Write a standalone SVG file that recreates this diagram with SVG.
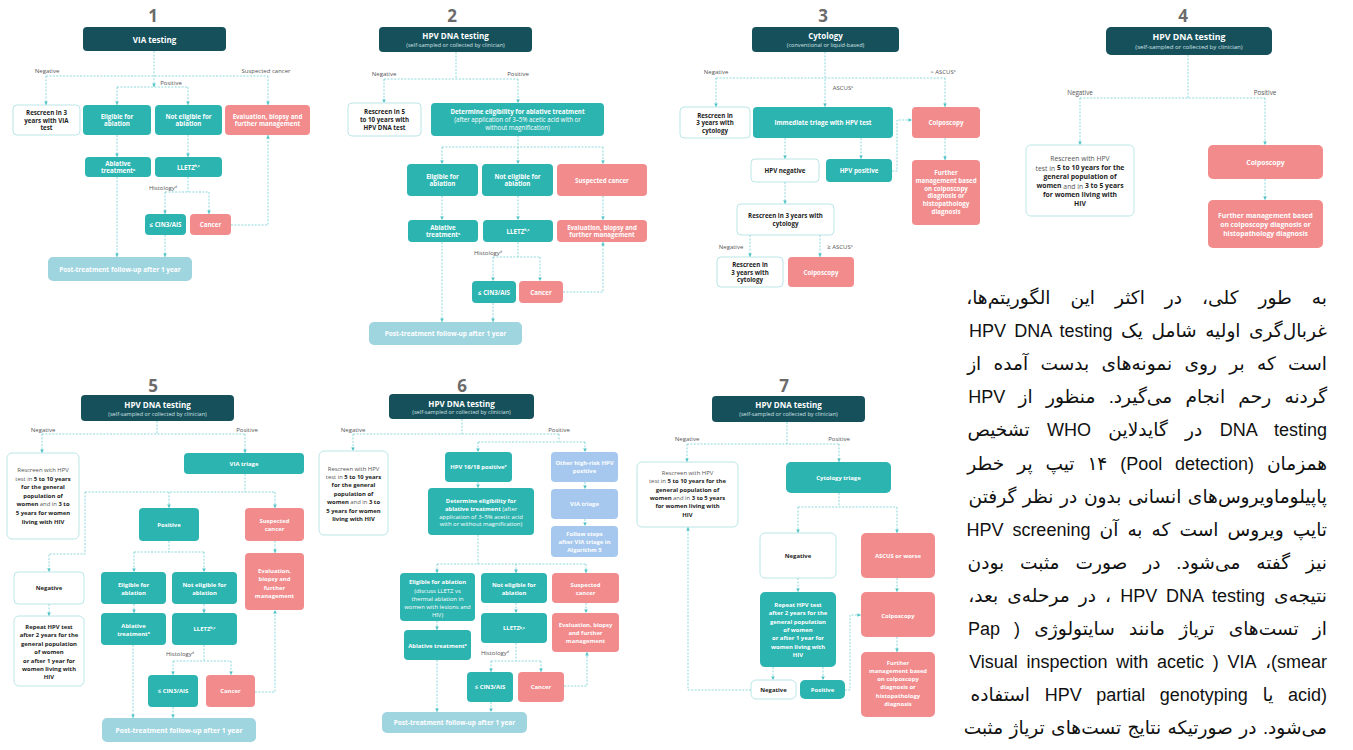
<svg xmlns="http://www.w3.org/2000/svg" width="1353" height="750" viewBox="0 0 1353 750">
<defs>
<marker id="ah" viewBox="0 0 6 6" refX="6" refY="3" markerWidth="3.6" markerHeight="3.6" markerUnits="userSpaceOnUse" orient="auto"><path d="M0,0L6,3L0,6z" fill="#4fc2c5"/></marker>
<style>
.hd{fill:#16505b}
.tl{fill:#2cb4b0}
.sa{fill:#f28b8c}
.wh{fill:#fff;stroke:#a8e0e1;stroke-width:0.8}
.fu{fill:#9fd5df}
.bl{fill:#a6c8ee}
#connectors path{fill:none;stroke:#72cfd2;stroke-width:0.8;stroke-dasharray:2 1.4}
#connectors path.a{marker-end:url(#ah)}
text{font-family:"Open Sans","Liberation Sans",sans-serif;text-anchor:middle;dominant-baseline:central}
.b{font-weight:700;fill:#fff}
.d{font-weight:700;fill:#1d1d1d}
.n{font-weight:400;fill:#555}
.nw{font-weight:400}
.ht{font-size:8px;font-weight:700;fill:#fff}
.hs{font-size:5.6px;font-weight:400;fill:#cfe2e4}
.lb{font-size:6px;fill:#555}
.num{font-size:17px;font-weight:700;fill:#6b6b6b}
.sp{font-size:3.6px}
.fa{font-family:"Liberation Sans","DejaVu Sans",sans-serif;font-size:18.6px;fill:#111;direction:rtl;text-anchor:start;dominant-baseline:auto}
.la{font-size:18px}
</style>
</defs>
<rect width="1353" height="750" fill="#fff"/>

<g id="connectors">
<path class="a" d="M154,51V87"/><path d="M46,76H268"/><path class="a" d="M46,76V105"/><path class="a" d="M268,76V105"/>
<path d="M117,87H188"/><path class="a" d="M117,87V105"/><path class="a" d="M188,87V105"/>
<path class="a" d="M117,135V157"/><path class="a" d="M188,135V157"/>
<path d="M188,177V192"/><path d="M165,192H209"/><path class="a" d="M165,192V214"/><path class="a" d="M209,192V214"/>
<path class="a" d="M231,225H268V135"/><path class="a" d="M117,177V257"/><path class="a" d="M165,235V257"/>

<path d="M456,52V79"/><path d="M384,79H518"/><path class="a" d="M384,79V103"/><path class="a" d="M518,79V103"/>
<path d="M518,136V147"/><path d="M442,147H603"/><path class="a" d="M442,147V164"/><path class="a" d="M518,147V164"/><path class="a" d="M603,147V164"/>
<path class="a" d="M442,196V220"/><path class="a" d="M518,196V220"/><path class="a" d="M603,196V220"/>
<path d="M518,242V257"/><path d="M493,257H540"/><path class="a" d="M493,257V281"/><path class="a" d="M540,257V281"/>
<path class="a" d="M563,292H603V242"/><path class="a" d="M442,242V322"/><path class="a" d="M493,303V322"/>

<path class="a" d="M825,52V107"/><path d="M716,78H945"/><path class="a" d="M716,78V107"/><path class="a" d="M945,78V107"/>
<path class="a" d="M785,138V159"/><path class="a" d="M861,138V159"/><path class="a" d="M892,171H897V120H912"/>
<path class="a" d="M945,138V160"/><path class="a" d="M785,182V204"/><path class="a" d="M750,235V257"/><path class="a" d="M820,235V257"/>

<path d="M1188,55V98"/><path d="M1080,98H1265"/><path class="a" d="M1080,98V145"/><path class="a" d="M1265,98V145"/><path class="a" d="M1265,179V200"/>

<path d="M157,421V434"/><path d="M42,434H245"/><path class="a" d="M42,434V453"/><path class="a" d="M245,434V453"/>
<path d="M245,474V492"/><path d="M85,492H275"/><path class="a" d="M169,492V508"/><path class="a" d="M275,492V508"/><path class="a" d="M85,492V554H49V572"/>
<path class="a" d="M275,541V553"/><path d="M169,541V552"/><path d="M134,552H204"/><path class="a" d="M134,552V572"/><path class="a" d="M204,552V572"/>
<path class="a" d="M49,604V616"/><path class="a" d="M134,604V613"/><path class="a" d="M204,604V613"/>
<path d="M204,645V661"/><path d="M173,661H231"/><path class="a" d="M173,661V675"/><path class="a" d="M231,661V675"/>
<path class="a" d="M255,692H275V610"/><path class="a" d="M133,645V718"/><path class="a" d="M173,707V718"/>

<path d="M462,419V434"/><path d="M353,434H559"/><path class="a" d="M353,434V451"/><path d="M559,434V442"/><path d="M478,442H585"/>
<path class="a" d="M478,442V452"/><path class="a" d="M585,442V452"/><path class="a" d="M478,482V488"/><path class="a" d="M585,482V489"/><path class="a" d="M585,519V526"/>
<path d="M478,535V564"/><path d="M437,564H586"/><path class="a" d="M437,564V573"/><path class="a" d="M516,564V573"/><path class="a" d="M586,564V573"/>
<path class="a" d="M437,621V630"/><path class="a" d="M516,603V613"/><path class="a" d="M586,603V613"/>
<path d="M516,643V661"/><path d="M491,661H541"/><path class="a" d="M491,661V672"/><path class="a" d="M541,661V672"/>
<path class="a" d="M564,686H587V652"/><path class="a" d="M437,660V712"/><path class="a" d="M491,702V712"/>

<path d="M787,422V444"/><path d="M687,444H839"/><path class="a" d="M687,444V462"/><path class="a" d="M839,444V462"/>
<path d="M839,493V507"/><path d="M798,507H897"/><path class="a" d="M798,507V533"/><path class="a" d="M897,507V533"/>
<path class="a" d="M798,578V592"/><path class="a" d="M897,578V592"/><path class="a" d="M897,637V652"/>
<path class="a" d="M773,667V680"/><path class="a" d="M823,667V680"/>
<path class="a" d="M751,690H688V527"/><path class="a" d="M845,690H850V615H861"/>
</g>

<g id="labels">
<text class="lb" x="47" y="71">Negative</text><text class="lb" x="266" y="71">Suspected cancer</text><text class="lb" x="171" y="83">Positive</text>
<text class="lb" x="163" y="188">Histology<tspan class="sp" dy="-2">d</tspan></text>
<text class="lb" x="384" y="74">Negative</text><text class="lb" x="518" y="74">Positive</text>
<text class="lb" x="488" y="253">Histology<tspan class="sp" dy="-2">d</tspan></text>
<text class="lb" x="716" y="72">Negative</text><text class="lb" x="943" y="72">&gt; ASCUS<tspan class="sp" dy="-2">a</tspan></text>
<text class="lb" x="843" y="88">ASCUS<tspan class="sp" dy="-2">a</tspan></text>
<text class="lb" x="731" y="247">Negative</text><text class="lb" x="840" y="247">≥ ASCUS<tspan class="sp" dy="-2">a</tspan></text>
<text class="lb" x="1080" y="92" style="font-size:6.3px">Negative</text><text class="lb" x="1265" y="92" style="font-size:6.3px">Positive</text>
<text class="lb" x="43" y="430">Negative</text><text class="lb" x="247" y="430">Positive</text>
<text class="lb" x="180" y="654">Histology<tspan class="sp" dy="-2">d</tspan></text>
<text class="lb" x="353" y="430">Negative</text><text class="lb" x="559" y="430">Positive</text>
<text class="lb" x="495" y="653">Histology<tspan class="sp" dy="-2">d</tspan></text>
<text class="lb" x="687" y="439">Negative</text><text class="lb" x="839" y="439">Positive</text>
</g>

<g id="numbers">
<text class="num" x="153" y="15">1</text><text class="num" x="452" y="15">2</text><text class="num" x="823" y="15">3</text><text class="num" x="1183" y="15">4</text>
<text class="num" x="153" y="385">5</text><text class="num" x="462" y="385">6</text><text class="num" x="784" y="385">7</text>
</g>

<g id="alg1" style="font-size:6.2px">
<g id="a1-via"><rect class="hd" x="83" y="27" width="143" height="24" rx="4"/><text class="ht" x="154.5" y="39">VIA testing</text></g>
<g id="a1-rescreen"><rect class="wh" x="13" y="105" width="67" height="30" rx="4"/><text class="d" x="46.5" y="112.4">Rescreen in 3</text><text class="d" x="46.5" y="120">years with VIA</text><text class="d" x="46.5" y="127.6">test</text></g>
<g id="a1-elig"><rect class="tl" x="83" y="105" width="68" height="30" rx="4"/><text class="b" x="117" y="116.2">Eligible for</text><text class="b" x="117" y="123.8">ablation</text></g>
<g id="a1-notelig"><rect class="tl" x="155" y="105" width="67" height="30" rx="4"/><text class="b" x="188.5" y="116.2">Not eligible for</text><text class="b" x="188.5" y="123.8">ablation</text></g>
<g id="a1-eval"><rect class="sa" x="225" y="105" width="85" height="30" rx="4"/><text class="b" x="267.5" y="116.2">Evaluation, biopsy and</text><text class="b" x="267.5" y="123.8">further management</text></g>
<g id="a1-abl"><rect class="tl" x="85" y="157" width="66" height="20" rx="4"/><text class="b" x="118" y="163.2">Ablative</text><text class="b" x="118" y="170.8">treatment<tspan class="sp" dy="-1.8">a</tspan></text></g>
<g id="a1-lletz"><rect class="tl" x="155" y="157" width="67" height="20" rx="4"/><text class="b" x="188.5" y="167">LLETZ<tspan class="sp" dy="-1.8">b,c</tspan></text></g>
<g id="a1-cin"><rect class="tl" x="145" y="214" width="41" height="21" rx="4"/><text class="b" x="165.5" y="224.5">≤ CIN3/AIS</text></g>
<g id="a1-cancer"><rect class="sa" x="190" y="214" width="41" height="21" rx="4"/><text class="b" x="210.5" y="224.5">Cancer</text></g>
<g id="a1-follow"><rect class="fu" x="48" y="257" width="144" height="24" rx="5"/><text class="b" x="120" y="269" style="font-size:6.5px">Post-treatment follow-up after 1 year</text></g>
</g>

<g id="alg2" style="font-size:6.2px">
<g id="a2-hpv"><rect class="hd" x="379" y="27" width="153" height="25" rx="4"/><text class="ht" x="455.5" y="35.5">HPV DNA testing</text><text class="hs" x="455.5" y="45">(self-sampled or collected by clinician)</text></g>
<g id="a2-rescreen"><rect class="wh" x="348" y="103" width="73" height="33" rx="4"/><text class="d" x="384.5" y="111.9">Rescreen in 5</text><text class="d" x="384.5" y="119.5">to 10 years with</text><text class="d" x="384.5" y="127.1">HPV DNA test</text></g>
<g id="a2-determine"><rect class="tl" x="431" y="103" width="173" height="33" rx="4"/><text class="b" x="517.5" y="111.3">Determine eligibility for ablative treatment</text><text class="b nw" x="517.5" y="119.3">(after application of 3–5% acetic acid with or</text><text class="b nw" x="517.5" y="127.3">without magnification)</text></g>
<g id="a2-elig"><rect class="tl" x="407" y="164" width="71" height="32" rx="4"/><text class="b" x="442.5" y="176.2">Eligible for</text><text class="b" x="442.5" y="183.8">ablation</text></g>
<g id="a2-notelig"><rect class="tl" x="482" y="164" width="71" height="32" rx="4"/><text class="b" x="517.5" y="176.2">Not eligible for</text><text class="b" x="517.5" y="183.8">ablation</text></g>
<g id="a2-suspected"><rect class="sa" x="557" y="164" width="90" height="32" rx="4"/><text class="b" x="602" y="180">Suspected cancer</text></g>
<g id="a2-abl"><rect class="tl" x="408" y="220" width="70" height="22" rx="4"/><text class="b" x="443" y="227.2">Ablative</text><text class="b" x="443" y="234.8">treatment<tspan class="sp" dy="-1.8">a</tspan></text></g>
<g id="a2-lletz"><rect class="tl" x="483" y="220" width="70" height="22" rx="4"/><text class="b" x="518" y="231">LLETZ<tspan class="sp" dy="-1.8">b,c</tspan></text></g>
<g id="a2-eval"><rect class="sa" x="557" y="220" width="90" height="22" rx="4"/><text class="b" x="602" y="227.2">Evaluation, biopsy and</text><text class="b" x="602" y="234.8">further management</text></g>
<g id="a2-cin"><rect class="tl" x="472" y="281" width="44" height="22" rx="4"/><text class="b" x="494" y="292">≤ CIN3/AIS</text></g>
<g id="a2-cancer"><rect class="sa" x="519" y="281" width="44" height="22" rx="4"/><text class="b" x="541" y="292">Cancer</text></g>
<g id="a2-follow"><rect class="fu" x="369" y="322" width="153" height="23" rx="5"/><text class="b" x="445.5" y="333.5" style="font-size:6.5px">Post-treatment follow-up after 1 year</text></g>
</g>

<g id="alg3" style="font-size:6.2px">
<g id="a3-cyto"><rect class="hd" x="752" y="27" width="147" height="25" rx="4"/><text class="ht" x="825.5" y="35.5">Cytology</text><text class="hs" x="825.5" y="44.5">(conventional or liquid-based)</text></g>
<g id="a3-rescreen"><rect class="wh" x="680" y="107" width="70" height="31" rx="4"/><text class="d" x="715" y="115">Rescreen in</text><text class="d" x="715" y="122.6">3 years with</text><text class="d" x="715" y="130.2">cytology</text></g>
<g id="a3-triage"><rect class="tl" x="753" y="107" width="140" height="31" rx="4"/><text class="b" x="823" y="122.5">Immediate triage with HPV test</text></g>
<g id="a3-colpo"><rect class="sa" x="912" y="107" width="68" height="31" rx="4"/><text class="b" x="946" y="122.5">Colposcopy</text></g>
<g id="a3-hpvneg"><rect class="wh" x="751" y="159" width="68" height="23" rx="4"/><text class="d" x="785" y="170.5">HPV negative</text></g>
<g id="a3-hpvpos"><rect class="tl" x="826" y="159" width="66" height="23" rx="4"/><text class="b" x="859" y="170.5">HPV positive</text></g>
<g id="a3-further"><rect class="sa" x="912" y="160" width="68" height="65" rx="4"/><text class="b" x="946" y="172.5">Further</text><text class="b" x="946" y="180.3">management based</text><text class="b" x="946" y="188.1">on colposcopy</text><text class="b" x="946" y="195.9">diagnosis or</text><text class="b" x="946" y="203.7">histopathology</text><text class="b" x="946" y="211.5">diagnosis</text></g>
<g id="a3-rescreen2"><rect class="wh" x="737" y="204" width="97" height="31" rx="4"/><text class="d" x="785.5" y="215.8">Rescreen in 3 years with</text><text class="d" x="785.5" y="223.4">cytology</text></g>
<g id="a3-rescreen3"><rect class="wh" x="717" y="257" width="66" height="30" rx="4"/><text class="d" x="750" y="264.5">Rescreen in</text><text class="d" x="750" y="272">3 years with</text><text class="d" x="750" y="279.6">cytology</text></g>
<g id="a3-colpo2"><rect class="sa" x="788" y="257" width="66" height="30" rx="4"/><text class="b" x="821" y="272">Colposcopy</text></g>
</g>

<g id="alg4" style="font-size:6.8px">
<g id="a4-hpv"><rect class="hd" x="1106" y="27" width="166" height="28" rx="5"/><text class="ht" x="1189" y="36.7" style="font-size:8.8px">HPV DNA testing</text><text class="hs" x="1189" y="46.5" style="font-size:6.1px">(self-sampled or collected by clinician)</text></g>
<g id="a4-rescreen"><rect class="wh" x="1026" y="145" width="108" height="71" rx="5"/>
<text class="d" x="1080" y="158.3"><tspan class="n">Rescreen with HPV</tspan></text>
<text class="d" x="1080" y="167.5"><tspan class="n">test in </tspan>5 to 10 years for the</text>
<text class="d" x="1080" y="176.6">general population of</text>
<text class="d" x="1080" y="185.7">women<tspan class="n"> and in </tspan>3 to 5 years</text>
<text class="d" x="1080" y="194.8">for women living with</text>
<text class="d" x="1080" y="203.9">HIV</text></g>
<g id="a4-colpo"><rect class="sa" x="1208" y="145" width="115" height="34" rx="5"/><text class="b" x="1265.5" y="162">Colposcopy</text></g>
<g id="a4-further"><rect class="sa" x="1208" y="200" width="115" height="48" rx="5"/><text class="b" x="1265.5" y="215.5">Further management based</text><text class="b" x="1265.5" y="224.5">on colposcopy diagnosis or</text><text class="b" x="1265.5" y="233.5">histopathology diagnosis</text></g>
</g>

<g id="alg5" style="font-size:5.9px">
<g id="a5-hpv"><rect class="hd" x="81" y="395" width="153" height="26" rx="4"/><text class="ht" x="157.5" y="404">HPV DNA testing</text><text class="hs" x="157.5" y="413.5">(self-sampled or collected by clinician)</text></g>
<g id="a5-rescreen"><rect class="wh" x="7" y="453" width="72" height="86" rx="5"/>
<text class="d" x="43" y="470"><tspan class="n">Rescreen with HPV</tspan></text>
<text class="d" x="43" y="478.6"><tspan class="n">test in </tspan>5 to 10 years</text>
<text class="d" x="43" y="487.2">for the general</text>
<text class="d" x="43" y="495.8">population of</text>
<text class="d" x="43" y="504.4">women<tspan class="n"> and in </tspan>3 to</text>
<text class="d" x="43" y="513">5 years for women</text>
<text class="d" x="43" y="521.6">living with HIV</text></g>
<g id="a5-via"><rect class="tl" x="184" y="453" width="120" height="21" rx="4"/><text class="b" x="244" y="463.5">VIA triage</text></g>
<g id="a5-positive"><rect class="tl" x="139" y="508" width="60" height="33" rx="4"/><text class="b" x="169" y="524.5">Positive</text></g>
<g id="a5-suspected"><rect class="sa" x="245" y="508" width="59" height="33" rx="4"/><text class="b" x="274.5" y="520.8">Suspected</text><text class="b" x="274.5" y="528.8">cancer</text></g>
<g id="a5-eval"><rect class="sa" x="245" y="553" width="59" height="57" rx="4"/><text class="b" x="274.5" y="571">Evaluation,</text><text class="b" x="274.5" y="579.4">biopsy and</text><text class="b" x="274.5" y="587.8">further</text><text class="b" x="274.5" y="596.2">management</text></g>
<g id="a5-negative"><rect class="wh" x="14" y="572" width="70" height="32" rx="4"/><text class="d" x="49" y="588">Negative</text></g>
<g id="a5-elig"><rect class="tl" x="101" y="572" width="65" height="32" rx="4"/><text class="b" x="133.5" y="584.8">Eligible for</text><text class="b" x="133.5" y="593.2">ablation</text></g>
<g id="a5-notelig"><rect class="tl" x="172" y="572" width="65" height="32" rx="4"/><text class="b" x="204.5" y="584.8">Not eligible for</text><text class="b" x="204.5" y="593.2">ablation</text></g>
<g id="a5-repeat"><rect class="wh" x="14" y="616" width="70" height="70" rx="5"/><text class="d" x="49" y="627">Repeat HPV test</text><text class="d" x="49" y="635.4">after 2 years for the</text><text class="d" x="49" y="643.8">general population</text><text class="d" x="49" y="652.2">of women</text><text class="d" x="49" y="660.6">or after 1 year for</text><text class="d" x="49" y="669">women living with</text><text class="d" x="49" y="677.4">HIV</text></g>
<g id="a5-abl"><rect class="tl" x="101" y="613" width="65" height="32" rx="4"/><text class="b" x="133.5" y="625.6">Ablative</text><text class="b" x="133.5" y="634.2">treatment<tspan class="sp" dy="-1.8">a</tspan></text></g>
<g id="a5-lletz"><rect class="tl" x="172" y="613" width="65" height="32" rx="4"/><text class="b" x="204.5" y="629">LLETZ<tspan class="sp" dy="-1.8">b,c</tspan></text></g>
<g id="a5-cin"><rect class="tl" x="148" y="675" width="50" height="32" rx="4"/><text class="b" x="173" y="691">≤ CIN3/AIS</text></g>
<g id="a5-cancer"><rect class="sa" x="206" y="675" width="49" height="32" rx="4"/><text class="b" x="230.5" y="691">Cancer</text></g>
<g id="a5-follow"><rect class="fu" x="102" y="718" width="154" height="24" rx="5"/><text class="b" x="179" y="730" style="font-size:6.8px">Post-treatment follow-up after 1 year</text></g>
</g>

<g id="alg6" style="font-size:5.9px">
<g id="a6-hpv"><rect class="hd" x="389" y="394" width="145" height="25" rx="4"/><text class="ht" x="461.5" y="403">HPV DNA testing</text><text class="hs" x="461.5" y="412">(self-sampled or collected by clinician)</text></g>
<g id="a6-rescreen"><rect class="wh" x="319" y="451" width="69" height="84" rx="5"/>
<text class="d" x="353.5" y="468.5"><tspan class="n">Rescreen with HPV</tspan></text>
<text class="d" x="353.5" y="476.9"><tspan class="n">test in </tspan>5 to 10 years</text>
<text class="d" x="353.5" y="485.3">for the general</text>
<text class="d" x="353.5" y="493.7">population of</text>
<text class="d" x="353.5" y="502.1">women<tspan class="n"> and in </tspan>3 to</text>
<text class="d" x="353.5" y="510.5">5 years for women</text>
<text class="d" x="353.5" y="518.9">living with HIV</text></g>
<g id="a6-hpv1618"><rect class="tl" x="445" y="452" width="67" height="30" rx="4"/><text class="b" x="478.5" y="467">HPV 16/18 positive<tspan class="sp" dy="-1.8">e</tspan></text></g>
<g id="a6-other"><rect class="bl" x="551" y="452" width="67" height="30" rx="4"/><text class="b" x="584.5" y="463.2">Other high-risk HPV</text><text class="b" x="584.5" y="470.8">positive</text></g>
<g id="a6-determine"><rect class="tl" x="428" y="488" width="106" height="47" rx="4"/><text class="b" x="481" y="500.8">Determine eligibility for</text><text class="b" x="481" y="508.6">ablative treatment<tspan class="nw"> (after</tspan></text><text class="b nw" x="481" y="516.6">application of 3–5% acetic acid</text><text class="b nw" x="481" y="524.4">with or without magnification)</text></g>
<g id="a6-via"><rect class="bl" x="551" y="489" width="67" height="30" rx="4"/><text class="b" x="584.5" y="504">VIA triage</text></g>
<g id="a6-follow-steps"><rect class="bl" x="551" y="526" width="67" height="31" rx="4"/><text class="b" x="584.5" y="534">Follow steps</text><text class="b" x="584.5" y="542">after VIA triage in</text><text class="b" x="584.5" y="550">Algorithm 5</text></g>
<g id="a6-elig"><rect class="tl" x="400" y="573" width="75" height="48" rx="4"/><text class="b" x="437.5" y="582.3">Eligible for ablation</text><text class="b nw" x="437.5" y="590.5">(discuss LLETZ vs</text><text class="b nw" x="437.5" y="598.7">thermal ablation in</text><text class="b nw" x="437.5" y="606.9">women with lesions and</text><text class="b nw" x="437.5" y="615.1">HIV)</text></g>
<g id="a6-notelig"><rect class="tl" x="481" y="573" width="66" height="30" rx="4"/><text class="b" x="514" y="584.6">Not eligible for</text><text class="b" x="514" y="592.6">ablation</text></g>
<g id="a6-suspected"><rect class="sa" x="552" y="573" width="67" height="30" rx="4"/><text class="b" x="585.5" y="584.6">Suspected</text><text class="b" x="585.5" y="592.6">cancer</text></g>
<g id="a6-abl"><rect class="tl" x="404" y="630" width="67" height="30" rx="4"/><text class="b" x="437.5" y="645.5">Ablative treatment<tspan class="sp" dy="-1.8">a</tspan></text></g>
<g id="a6-lletz"><rect class="tl" x="481" y="613" width="66" height="30" rx="4"/><text class="b" x="514" y="628.3">LLETZ<tspan class="sp" dy="-1.8">b,c</tspan></text></g>
<g id="a6-eval"><rect class="sa" x="552" y="613" width="67" height="39" rx="4"/><text class="b" x="585.5" y="625">Evaluation, biopsy</text><text class="b" x="585.5" y="632.8">and further</text><text class="b" x="585.5" y="640.6">management</text></g>
<g id="a6-cin"><rect class="tl" x="467" y="672" width="46" height="30" rx="4"/><text class="b" x="490" y="687">≤ CIN3/AIS</text></g>
<g id="a6-cancer"><rect class="sa" x="518" y="672" width="46" height="30" rx="4"/><text class="b" x="541" y="687">Cancer</text></g>
<g id="a6-follow"><rect class="fu" x="382" y="712" width="145" height="21" rx="5"/><text class="b" x="454.5" y="722.5" style="font-size:6.5px">Post-treatment follow-up after 1 year</text></g>
</g>

<g id="alg7" style="font-size:5.9px">
<g id="a7-hpv"><rect class="hd" x="712" y="396" width="153" height="26" rx="4"/><text class="ht" x="788.5" y="404.6">HPV DNA testing</text><text class="hs" x="788.5" y="413.8">(self-sampled or collected by clinician)</text></g>
<g id="a7-rescreen"><rect class="wh" x="637" y="462" width="101" height="65" rx="5"/>
<text class="d" x="687.5" y="472.8"><tspan class="n">Rescreen with HPV</tspan></text>
<text class="d" x="687.5" y="481.2"><tspan class="n">test in </tspan>5 to 10 years for the</text>
<text class="d" x="687.5" y="489.6">general population of</text>
<text class="d" x="687.5" y="498">women<tspan class="n"> and in </tspan>3 to 5 years</text>
<text class="d" x="687.5" y="506.4">for women living with</text>
<text class="d" x="687.5" y="514.8">HIV</text></g>
<g id="a7-cytotriage"><rect class="tl" x="786" y="462" width="105" height="31" rx="5"/><text class="b" x="838.5" y="478">Cytology triage</text></g>
<g id="a7-negative"><rect class="wh" x="760" y="533" width="76" height="45" rx="5"/><text class="d" x="798" y="556">Negative</text></g>
<g id="a7-ascus"><rect class="sa" x="861" y="533" width="74" height="45" rx="5"/><text class="b" x="898" y="556">ASCUS or worse</text></g>
<g id="a7-repeat"><rect class="tl" x="760" y="592" width="76" height="75" rx="5"/><text class="b" x="798" y="605">Repeat HPV test</text><text class="b" x="798" y="613.3">after 2 years for the</text><text class="b" x="798" y="621.6">general population</text><text class="b" x="798" y="629.9">of women</text><text class="b" x="798" y="638.2">or after 1 year for</text><text class="b" x="798" y="646.5">women living with</text><text class="b" x="798" y="654.8">HIV</text></g>
<g id="a7-colpo"><rect class="sa" x="861" y="592" width="74" height="45" rx="5"/><text class="b" x="898" y="616">Colposcopy</text></g>
<g id="a7-further"><rect class="sa" x="861" y="652" width="74" height="65" rx="5"/><text class="b" x="898" y="662.5">Further</text><text class="b" x="898" y="670.8">management based</text><text class="b" x="898" y="679.1">on colposcopy</text><text class="b" x="898" y="687.4">diagnosis or</text><text class="b" x="898" y="695.7">histopathology</text><text class="b" x="898" y="704">diagnosis</text></g>
<g id="a7-neg2"><rect class="wh" x="751" y="680" width="45" height="19" rx="5"/><text class="d" x="773.5" y="689.5">Negative</text></g>
<g id="a7-pos2"><rect class="tl" x="800" y="680" width="45" height="19" rx="5"/><text class="b" x="822.5" y="689.5">Positive</text></g>
</g>

<g id="persian-text">
<text class="fa" x="1327" y="304" style="word-spacing:14.8px">به طور کلی، در اکثر این الگوریتم&#x200C;ها،</text>
<text class="fa" x="1327" y="337.1" style="word-spacing:3.3px">غربال&#x200C;گری اولیه شامل یک <tspan class="la">HPV DNA testing</tspan></text>
<text class="fa" x="1327" y="370.2" style="word-spacing:7.1px">است که بر روی نمونه&#x200C;های بدست آمده از</text>
<text class="fa" x="1327" y="403.3" style="word-spacing:8.1px">گردنه رحم انجام می&#x200C;گیرد. منظور از <tspan class="la">HPV</tspan></text>
<text class="fa" x="1327" y="436.4" style="word-spacing:12.2px"><tspan class="la">DNA testing</tspan> در گایدلاین <tspan class="la">WHO</tspan> تشخیص</text>
<text class="fa" x="1327" y="469.5" style="word-spacing:7.7px">همزمان <tspan class="la">(Pool detection)</tspan> ۱۴ تیپ پر خطر</text>
<text class="fa" x="1327" y="502.6" style="word-spacing:1.4px">پاپیلوماویروس&#x200C;های انسانی بدون در نظر گرفتن</text>
<text class="fa" x="1327" y="535.7" style="word-spacing:3.9px">تایپ ویروس است که به آن <tspan class="la">HPV screening</tspan></text>
<text class="fa" x="1327" y="568.8" style="word-spacing:10.7px">نیز گفته می&#x200C;شود. در صورت مثبت بودن</text>
<text class="fa" x="1327" y="601.9" style="word-spacing:3.9px">نتیجه&#x200C;ی <tspan class="la">HPV DNA testing</tspan> ، در مرحله&#x200C;ی بعد،</text>
<text class="fa" x="1327" y="635" style="word-spacing:9px">از تست&#x200C;های تریاژ مانند سایتولوژی <tspan class="la">( Pap</tspan></text>
<text class="fa" x="1327" y="668.1" style="font-size:18px;word-spacing:3.7px">smear)،&#x200F; VIA &#x200F;( Visual inspection with acetic</text>
<text class="fa" x="1327" y="701.2" style="word-spacing:9.5px"><tspan class="la">&#x200E;acid)&#x200E;</tspan> یا <tspan class="la">HPV partial genotyping</tspan> استفاده</text>
<text class="fa" x="1327" y="734.3" style="word-spacing:1.2px">می&#x200C;شود. در صورتیکه نتایج تست&#x200C;های تریاژ مثبت</text>
</g>
</svg>
